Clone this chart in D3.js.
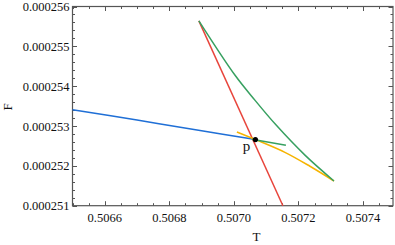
<!DOCTYPE html>
<html>
<head>
<meta charset="utf-8">
<script src="https://cdn.jsdelivr.net/npm/d3@7"></script>
<style>
body { margin: 0; background: #fff; }
text { font-family: "Liberation Serif", "Times New Roman", serif; fill: #111; }
</style>
</head>
<body>
<div id="chart"></div>
<script>
// curves, [T, F]
var blueCurve = [[0.5065, 0.00025341], [0.5067, 0.00025315], [0.5069, 0.00025288], [0.5070667, 0.00025266]];
var redCurve = [[0.5068915, 0.00025564], [0.5071519, 0.000251]];
var greenCurve = [[0.5068915, 0.00025564], [0.5070031, 0.00025428], [0.5070651, 0.00025365], [0.5071302, 0.00025303], [0.5072202, 0.00025227], [0.5073101, 0.00025162]];
var greenShort = [[0.5070558, 0.00025267], [0.5071612, 0.00025252]];
var yellowCurve = [[0.5070093, 0.00025285], [0.5070667, 0.00025266], [0.5071581, 0.00025234], [0.5072357, 0.00025199], [0.5073101, 0.00025162]];
var pointP = [0.5070667, 0.00025266];

var xTicks = [0.5066, 0.5068, 0.5070, 0.5072, 0.5074];
var yTicks = [0.000251, 0.000252, 0.000253, 0.000254, 0.000255, 0.000256];

function drawChart(selector){
    var width = 395, height = 245;
    var mLeft = 72.5, mRight = 393, mTop = 6.5, mBottom = 205.7;

    var svg = d3.select(selector).append("svg")
        .attr("width", width)
        .attr("height", height)

    var x = d3.scaleLinear().domain([0.5065, 0.507493]).range([mLeft, mRight])
    var y = d3.scaleLinear().domain([0.000251, 0.000256]).range([mBottom, mTop])

    var frameColor = "#555"

    // minor + major ticks on all four sides, pointing in
    var xMinor = d3.range(0, 20).map(function(i){ return 0.5065 + i * 0.00005 })
        .filter(function(v){ return v <= 0.507493 })
    var yMinor = d3.range(0, 26).map(function(i){ return 0.000251 + i * 0.0000002 })

    var ticks = svg.append("g").attr("stroke", frameColor).attr("stroke-width", 1)

    xMinor.forEach(function(v){
        var r = (v - 0.5066) / 0.0002
        var len = (Math.abs(r - Math.round(r)) < 1e-6) ? 4.5 : 2.5
        var px = Math.round(x(v)) + 0.5
        ticks.append("line").attr("x1", px).attr("x2", px).attr("y1", mBottom).attr("y2", mBottom - len)
        ticks.append("line").attr("x1", px).attr("x2", px).attr("y1", mTop).attr("y2", mTop + len)
    })
    yMinor.forEach(function(v){
        var r = (v - 0.000251) / 0.000001
        var len = (Math.abs(r - Math.round(r)) < 1e-6) ? 4.5 : 2.5
        var py = Math.round(y(v)) + 0.5
        ticks.append("line").attr("x1", mLeft).attr("x2", mLeft + len).attr("y1", py).attr("y2", py)
        ticks.append("line").attr("x1", mRight).attr("x2", mRight - len).attr("y1", py).attr("y2", py)
    })

    // frame
    svg.append("rect")
        .attr("x", mLeft).attr("y", mTop)
        .attr("width", mRight - mLeft).attr("height", mBottom - mTop)
        .attr("fill", "none")
        .attr("stroke", frameColor)
        .attr("stroke-width", 1.2)

    // tick labels
    svg.selectAll(".xlab").data(xTicks).enter().append("text")
        .attr("class", "xlab")
        .attr("x", function(d){ return x(d) })
        .attr("y", mBottom + 16)
        .attr("text-anchor", "middle")
        .attr("font-size", 12.5)
        .text(function(d){ return d3.format(".4f")(d) })

    svg.selectAll(".ylab").data(yTicks).enter().append("text")
        .attr("class", "ylab")
        .attr("x", mLeft - 3)
        .attr("y", function(d){ return y(d) + 4.5 })
        .attr("text-anchor", "end")
        .attr("font-size", 12.5)
        .text(function(d){ return d3.format(".6f")(d) })

    // axis labels
    svg.append("text")
        .attr("x", x(0.50707))
        .attr("y", 241)
        .attr("text-anchor", "middle")
        .attr("font-size", 13)
        .text("T")

    svg.append("text")
        .attr("transform", "translate(12,107) rotate(-90)")
        .attr("text-anchor", "middle")
        .attr("font-size", 13)
        .text("F")

    // curves
    var line = d3.line()
        .x(function(d){ return x(d[0]) })
        .y(function(d){ return y(d[1]) })
        .curve(d3.curveCatmullRom.alpha(0.5))

    var g = svg.append("g")

    function drawCurve(data, color){
        g.append("path")
            .datum(data)
            .attr("d", line)
            .attr("fill", "none")
            .attr("stroke", color)
            .attr("stroke-width", 1.5)
    }

    drawCurve(blueCurve, "#1f6fd6")
    drawCurve(redCurve, "#e8453c")
    drawCurve(yellowCurve, "#f6b400")
    drawCurve(greenCurve, "#37a060")
    drawCurve(greenShort, "#37a060")

    g.append("circle")
        .attr("cx", x(pointP[0]))
        .attr("cy", y(pointP[1]))
        .attr("r", 2.6)
        .attr("fill", "#000")

    svg.append("text")
        .attr("x", x(pointP[0]) - 9)
        .attr("y", y(pointP[1]) + 11)
        .attr("text-anchor", "middle")
        .attr("font-size", 15)
        .text("p")
}

drawChart("#chart")
</script>
</body>
</html>
